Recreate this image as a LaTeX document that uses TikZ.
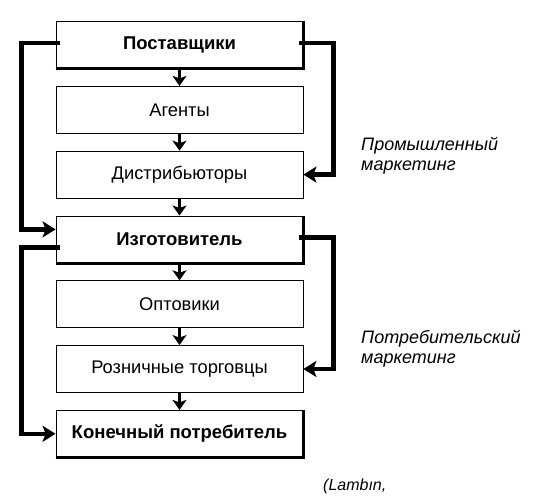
\documentclass[tikz,border=0pt]{standalone}
\usepackage{fontspec}
\setmainfont{Liberation Sans}
\usetikzlibrary{positioning,arrows.meta}

\begin{document}
\begin{tikzpicture}[x=1pt,y=-1pt,node distance=17pt,
 b/.style={draw,line width=.8pt,minimum width=247pt,minimum height=47pt,inner sep=0pt,font=\fontsize{18.3}{21}\selectfont},
 bb/.style={b,font=\fontsize{18.5}{21}\selectfont\bfseries},
 a/.style={-{Stealth[length=10pt,width=14pt,inset=2.5pt]},line width=3pt},
 lp/.style={-{Stealth[length=13pt,width=16pt,inset=3pt]},line width=4.5pt},
 m/.style={font=\fontsize{18}{20}\selectfont\itshape,align=left,inner sep=0pt}]
\useasboundingbox (0,0) rectangle (538,500);
\node[bb] (sup) at (179.5,45) {Поставщики};
\node[b,below=of sup] (ag) {Агенты};
\node[b,below=of ag] (dis) {Дистрибьюторы};
\node[bb,below=of dis] (mak) {Изготовитель};
\node[b,below=of mak] (who) {Оптовики};
\node[b,below=of who] (ret) {Розничные торговцы};
\node[bb,below=of ret] (end) {Конечный потребитель};
% heavy edges of the main boxes
\foreach \n in {sup,mak,end} \draw[line width=3pt] (\n.south west) -- (\n.south east) -- (\n.north east);
\draw[a] (sup)--(ag);\draw[a] (ag)--(dis);\draw[a] (dis)--(mak);
\draw[a] (mak)--(who);\draw[a] (who)--(ret);\draw[a] (ret)--(end);
% the two marketing loops
\draw[lp] ([xshift=4pt,yshift=2pt]sup.west) -- ++(-38,0) |- ([yshift=10pt]mak.west);
\draw[lp] ([xshift=-4pt,yshift=2pt]sup.east) -- ++(34,0) |- (dis.east);
\draw[lp] ([xshift=4pt,yshift=-8pt]mak.west) -- ++(-38,0) |- (end.west);
\draw[lp] ([xshift=-4pt,yshift=2pt]mak.east) -- ++(34,0) |- (ret.east);
\node[m,anchor=north west] (ind) at (361,137) {Промышленный\\маркетинг};
\node[m,anchor=north west] (con) at (361,330) {Потребительский\\маркетинг};
\node[m,font=\fontsize{16}{19}\selectfont\itshape,anchor=base west] (src) at (323,490) {(Lambın,};
\end{tikzpicture}
\end{document}
